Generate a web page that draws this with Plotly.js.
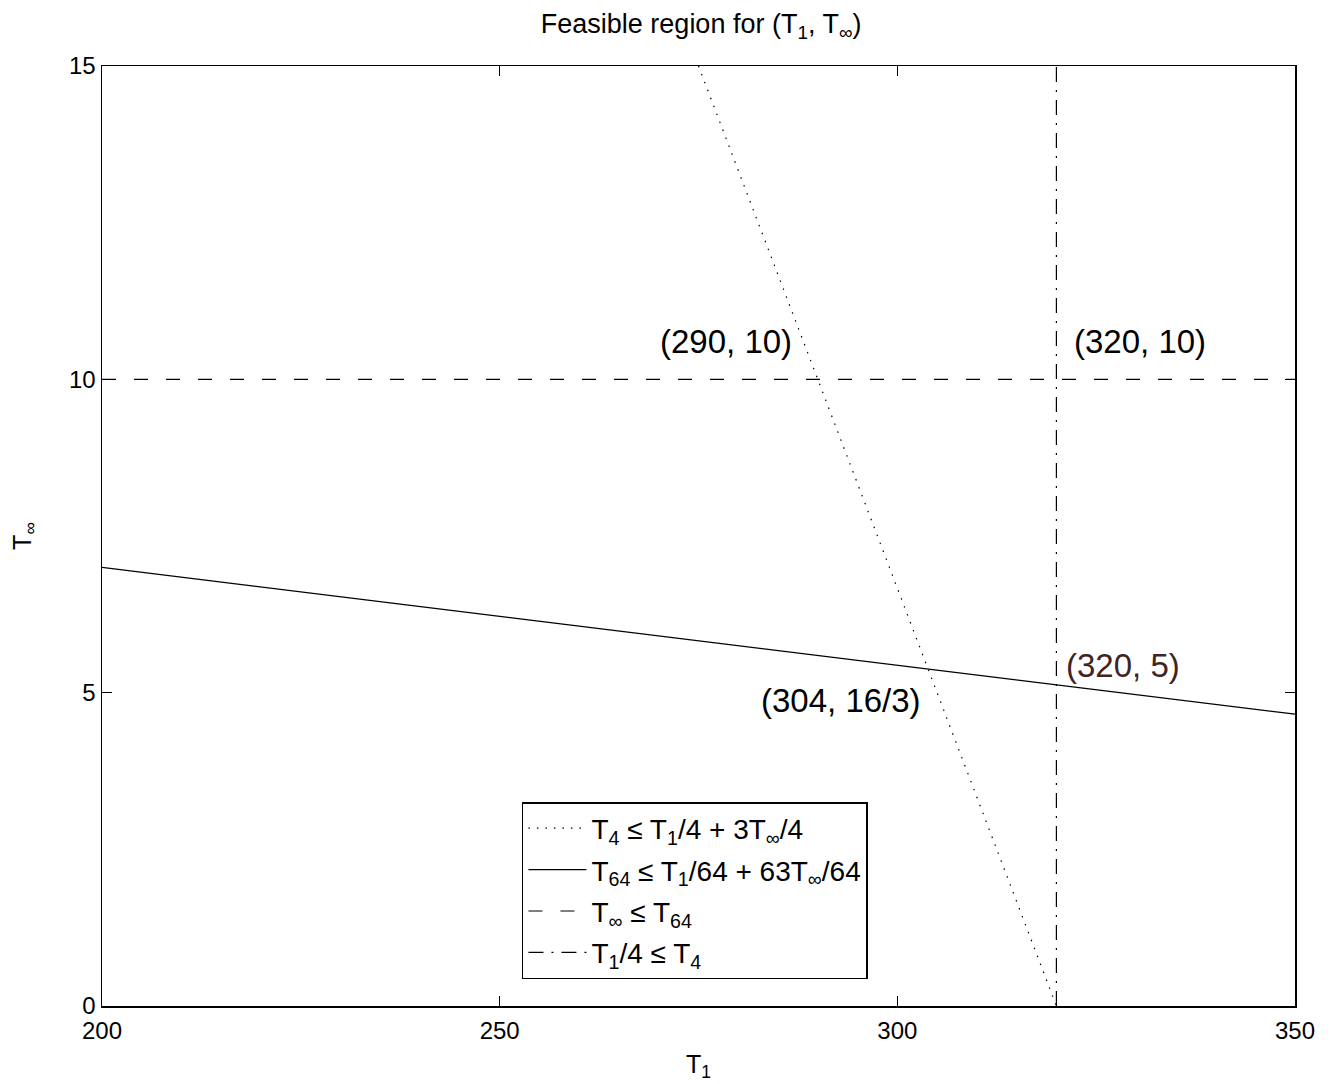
<!DOCTYPE html>
<html>
<head>
<meta charset="utf-8">
<script src="https://cdn.plot.ly/plotly-3.0.1.min.js"></script>
<style>html,body{margin:0;padding:0;background:#fff;}#chart{width:1338px;height:1084px;}</style>
</head>
<body>
<div id="chart"></div>
<script>
// Constraint lines
const dottedX = [275, 320];
const dottedY = [15, 0];
const solidX = [200, 350];
const solidY = [7, 4.65625];
const dashedX = [200, 350];
const dashedY = [10, 10];
const dashdotX = [320, 320];
const dashdotY = [0, 15];

const legendNames = [
  "T<sub>4</sub> ≤ T<sub>1</sub>/4 + 3T<sub>∞</sub>/4",
  "T<sub>64</sub> ≤ T<sub>1</sub>/64 + 63T<sub>∞</sub>/64",
  "T<sub>∞</sub> ≤ T<sub>64</sub>",
  "T<sub>1</sub>/4 ≤ T<sub>4</sub>"
];

const labelTexts = ["(290, 10)", "(320, 10)", "(320, 5)", "(304, 16/3)"];
const labelX = [278.5, 330.5, 328.4, 292.9];
const labelY = [10.6, 10.6, 5.44, 4.88];
const labelColors = ["#000000", "#000000", "#402424", "#000000"];

const xTicks = [200, 250, 300, 350];
const yTicks = [0, 5, 10, 15];

const FONT = "Liberation Sans, Arial, Helvetica, sans-serif";

const traces = [
  {x: dottedX, y: dottedY, mode: 'lines', name: legendNames[0], legendgroup: 'a',
   line: {color: 'black', width: 1.2, dash: '1.5px,7px'}},
  {x: solidX, y: solidY, mode: 'lines', name: legendNames[1], legendgroup: 'b',
   line: {color: 'black', width: 1.2}},
  {x: dashedX, y: dashedY, mode: 'lines', name: legendNames[2], legendgroup: 'c',
   line: {color: 'black', width: 1.2, dash: '14px,18px'}},
  {x: dashdotX, y: dashdotY, mode: 'lines', name: legendNames[3], legendgroup: 'd',
   line: {color: 'black', width: 1.2, dash: '15px,8px,2px,8px'}}
];

const annotations = labelTexts.map((t, i) => ({
  x: labelX[i], y: labelY[i], xref: 'x', yref: 'y', text: t, showarrow: false,
  xanchor: 'center', yanchor: 'middle',
  font: {family: FONT, size: 33, color: labelColors[i]}
}));

const axisCommon = {
  showline: true, linecolor: 'black', linewidth: 1.5, mirror: 'ticks',
  ticks: 'inside', ticklen: 10, tickwidth: 1, tickcolor: 'black',
  showgrid: false, zeroline: false, tickfont: {family: FONT, size: 24, color: 'black'}
};

const layout = {
  width: 1338, height: 1084,
  margin: {l: 102, r: 43, t: 66, b: 78},
  paper_bgcolor: 'white', plot_bgcolor: 'white',
  font: {family: FONT, color: 'black'},
  title: {text: 'Feasible region for (T<sub>1</sub>, T<sub>∞</sub>)', font: {family: FONT, size: 27, color: 'black'},
          x: 0.524, xanchor: 'center', y: 1 - 24/1084, yref: 'container', yanchor: 'middle'},
  xaxis: Object.assign({}, axisCommon, {range: [200, 350], tickvals: xTicks, ticktext: xTicks.map(String),
          ticklabelstandoff: 3,
          title: {text: 'T<sub>1</sub>', font: {family: FONT, size: 25}, standoff: 12}}),
  yaxis: Object.assign({}, axisCommon, {range: [0, 15], tickvals: yTicks, ticktext: yTicks.map(String),
          title: {text: 'T<sub>∞</sub>', font: {family: FONT, size: 25}, standoff: 30}}),
  showlegend: true,
  legend: {x: 0.352, y: 0.217, xanchor: 'left', yanchor: 'top', bgcolor: 'white',
           bordercolor: 'black', borderwidth: 1.5, font: {family: FONT, size: 28, color: 'black'},
           itemwidth: 58, tracegroupgap: 2, traceorder: 'grouped'},
  annotations: annotations
};

Plotly.newPlot('chart', traces, layout, {displayModeBar: false, staticPlot: true});
</script>
</body>
</html>
